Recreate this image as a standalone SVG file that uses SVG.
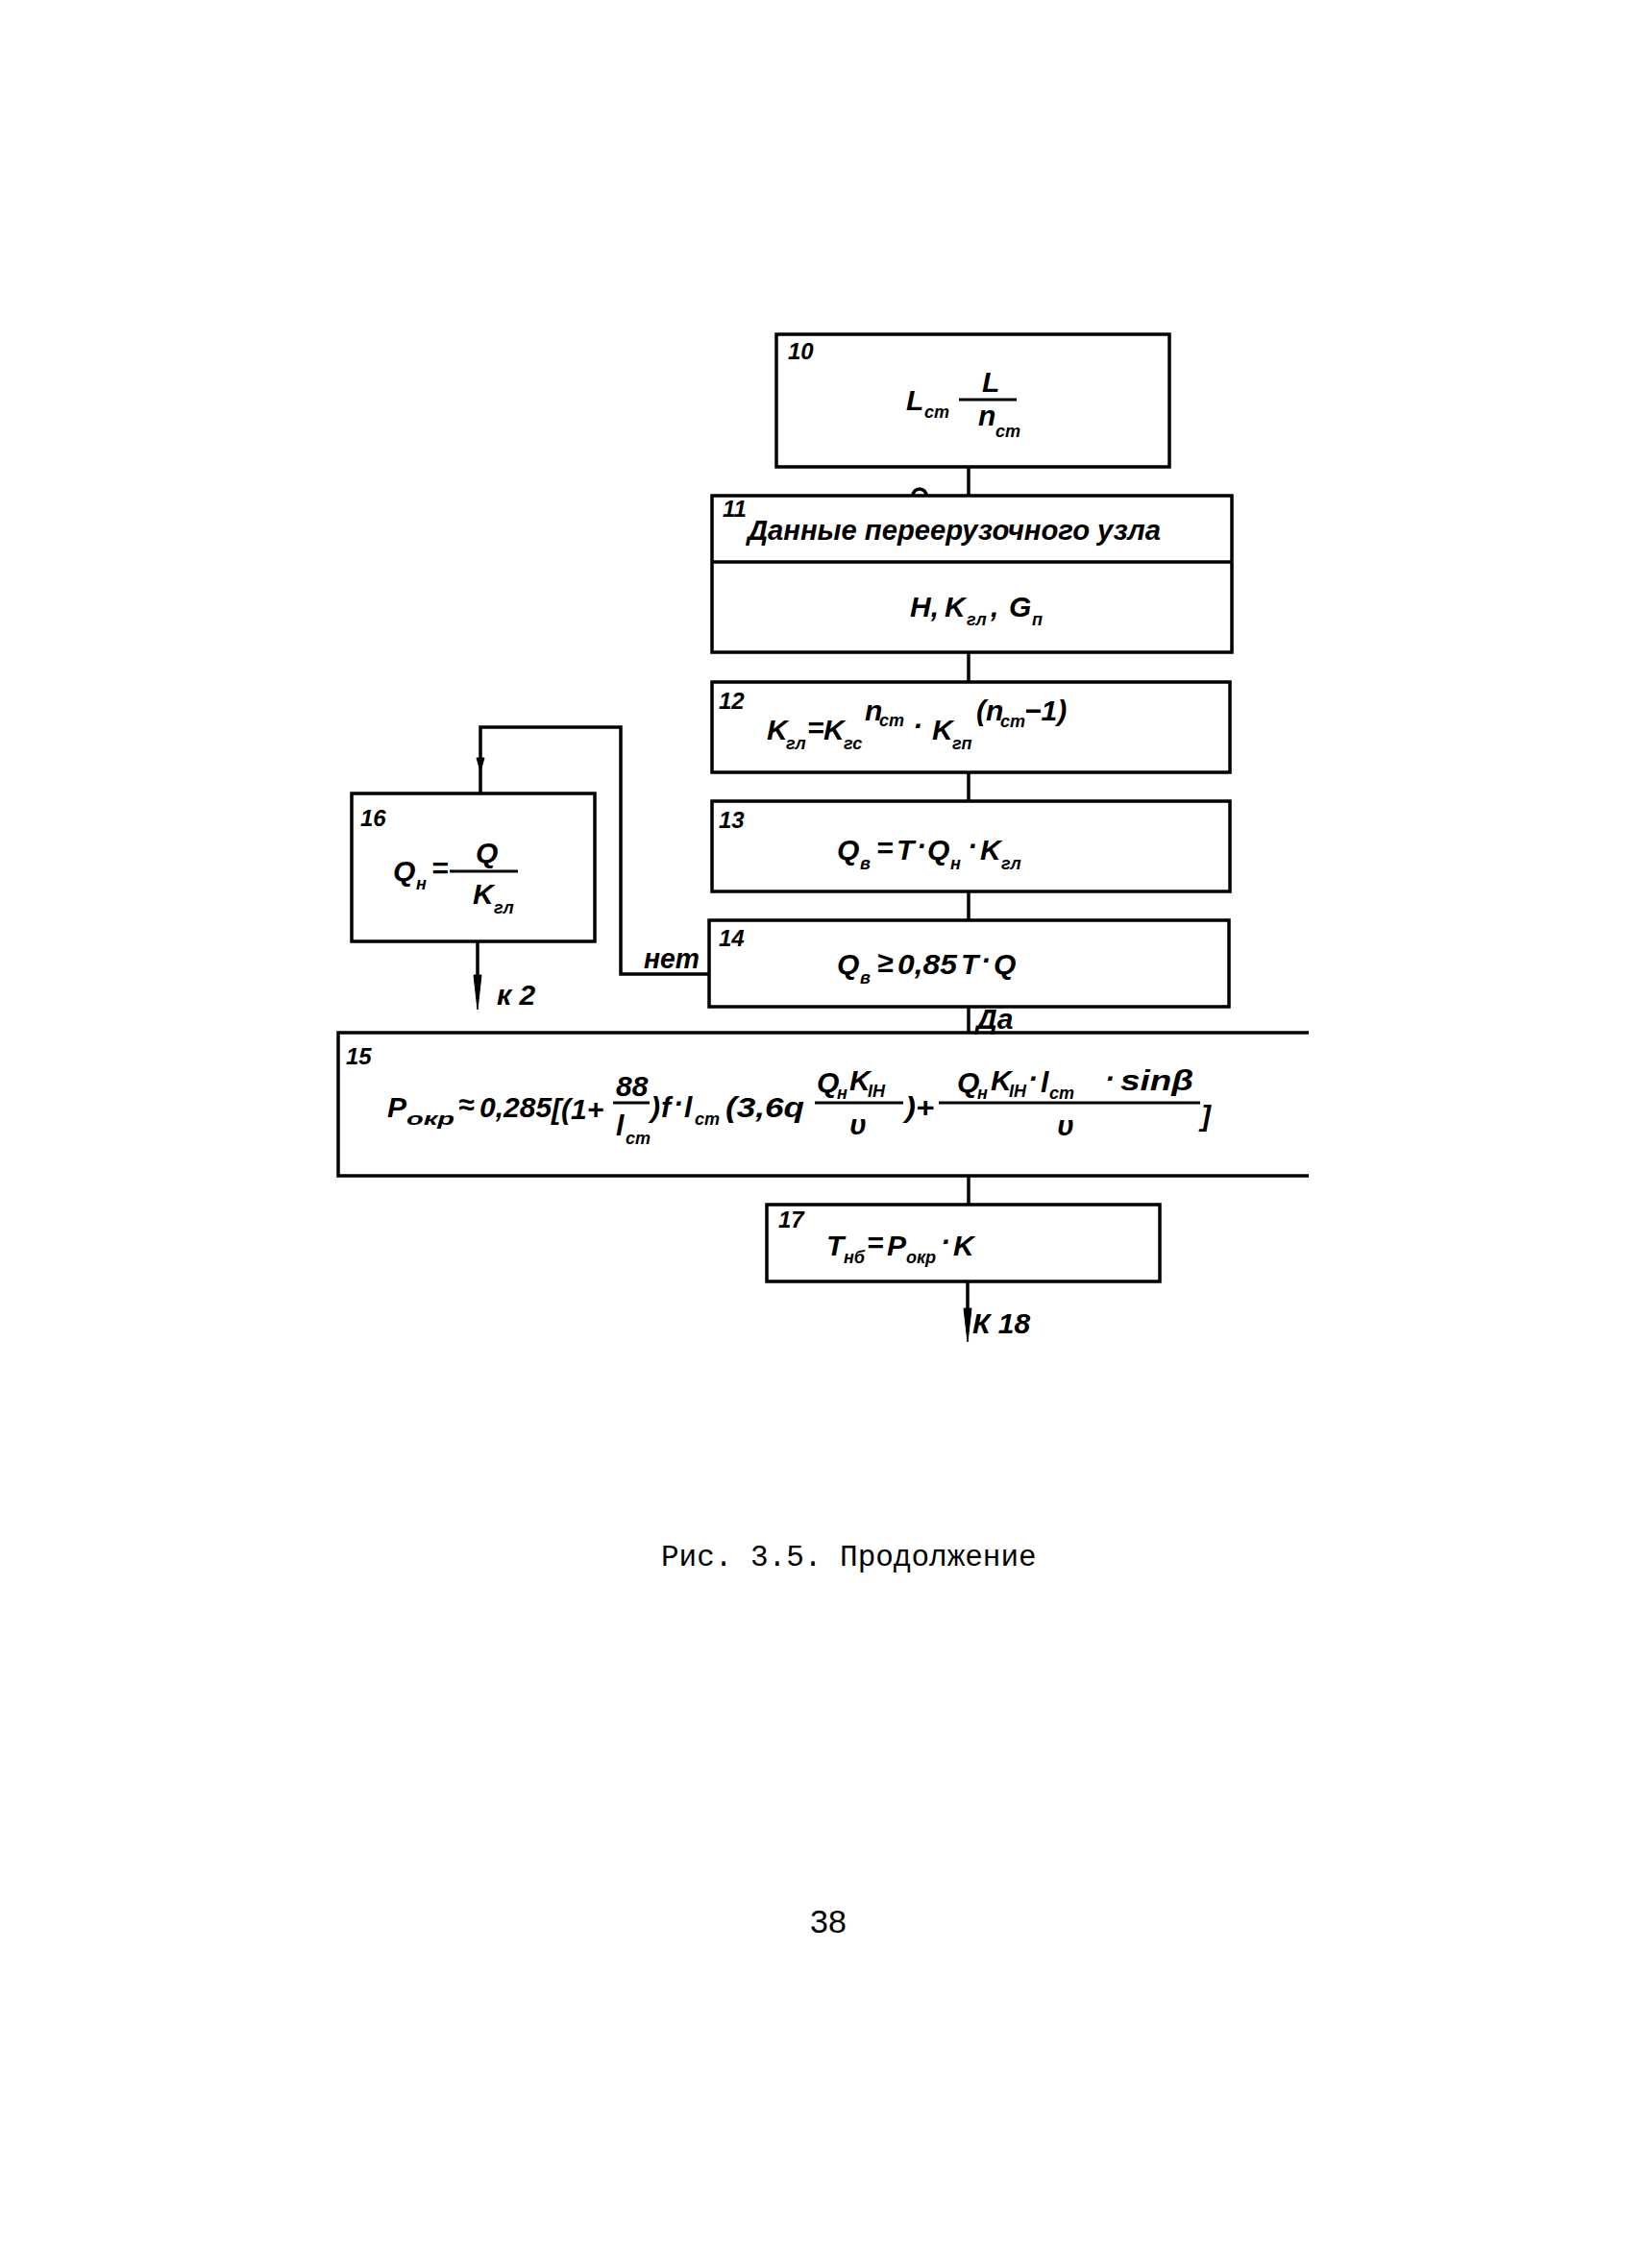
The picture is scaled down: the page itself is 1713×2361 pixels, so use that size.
<svg xmlns="http://www.w3.org/2000/svg" width="1713" height="2361" viewBox="0 0 1713 2361">
<style>
.box{fill:none;stroke:#000;stroke-width:3.5}
.ln{fill:none;stroke:#000;stroke-width:3.5}
.fl{fill:none;stroke:#000;stroke-width:3}
.ah{fill:#000;stroke:#000;stroke-width:1}
text{fill:#000}
.f{font-family:"Liberation Sans",sans-serif;font-style:italic;font-weight:bold;font-size:30px}
.n{font-family:"Liberation Sans",sans-serif;font-style:italic;font-weight:bold;font-size:24px}
.s{font-family:"Liberation Sans",sans-serif;font-style:italic;font-weight:bold;font-size:18px}
.cap{font-family:"Liberation Mono",monospace;font-size:31px}
.pg{font-family:"Liberation Sans",sans-serif;font-size:34px}
</style>
<rect width="1713" height="2361" fill="#fff"/>

<g id="connectors">
<line class="ln" x1="1008" y1="486" x2="1008" y2="516"/>
<path class="ln" d="M950,516 A7,7 0 0 1 964,516" stroke-width="2"/>
<line class="ln" x1="1008" y1="679" x2="1008" y2="710"/>
<line class="ln" x1="1008" y1="804" x2="1008" y2="834"/>
<line class="ln" x1="1008" y1="928" x2="1008" y2="958"/>
<line class="ln" x1="1008" y1="1048" x2="1008" y2="1075"/>
<line class="ln" x1="1008" y1="1224" x2="1008" y2="1254"/>
<line class="ln" x1="1007" y1="1334" x2="1007" y2="1370"/>
<polygon class="ah" points="1003,1362 1011,1362 1007,1397"/>
<path class="ln" d="M738,1014 H646 V757 H500 V826"/>
<polygon class="ah" points="496,789 504,789 500,803"/>
<line class="ln" x1="497" y1="980" x2="497" y2="1020"/>
<polygon class="ah" points="493,1015 501,1015 497,1051"/>
<text class="f" x="670" y="1008" textLength="58" lengthAdjust="spacingAndGlyphs">нет</text>
<text class="f" x="1016" y="1071" font-size="28">Да</text>
<text class="f" x="517" y="1046" font-size="32">к 2</text>
<text class="f" x="1012" y="1388" font-size="30">К 18</text>
</g>

<g id="node10">
<rect class="box" x="808" y="348" width="409" height="138"/>
<text class="n" x="820" y="374">10</text>
<text class="f" x="943" y="427" font-size="32">L</text>
<text class="s" x="962" y="435" font-size="20">ст</text>
<line class="fl" x1="998" y1="416" x2="1058" y2="416"/>
<text class="f" x="1022" y="408" font-size="32">L</text>
<text class="f" x="1018" y="443" font-size="28">n</text>
<text class="s" x="1036" y="455" font-size="20">ст</text>
</g>

<g id="node11">
<rect class="box" x="741" y="516" width="541" height="163"/>
<line class="ln" x1="741" y1="585" x2="1282" y2="585"/>
<text class="n" x="752" y="538">11</text>
<text class="f" x="778" y="562" textLength="430" lengthAdjust="spacingAndGlyphs">Данные переерузочного узла</text>
<text class="f" x="947" y="642" font-size="32">H,</text>
<text class="f" x="983" y="642" font-size="32">K</text>
<text class="s" x="1006" y="651" font-size="20">гл</text>
<text class="f" x="1031" y="642" font-size="32">,</text>
<text class="f" x="1050" y="642" font-size="32">G</text>
<text class="s" x="1074" y="651" font-size="20">п</text>
</g>

<g id="node12">
<rect class="box" x="741" y="710" width="539" height="94"/>
<text class="n" x="748" y="738">12</text>
<text class="f" x="798" y="770">K</text>
<text class="s" x="818" y="780">гл</text>
<text class="f" x="840" y="768" font-size="26">=</text>
<text class="f" x="857" y="770">K</text>
<text class="s" x="878" y="780">гс</text>
<text class="f" x="900" y="750" font-size="24">n</text>
<text class="s" x="915" y="756" font-size="16">ст</text>
<text class="f" x="950" y="766">·</text>
<text class="f" x="970" y="770">K</text>
<text class="s" x="991" y="780">гп</text>
<text class="f" x="1016" y="750" font-size="24">(n</text>
<text class="s" x="1041" y="757" font-size="15">ст</text>
<text class="f" x="1066" y="750" font-size="24">−1)</text>
</g>

<g id="node13">
<rect class="box" x="741" y="834" width="539" height="94"/>
<text class="n" x="748" y="862">13</text>
<text class="f" x="871" y="895">Q</text>
<text class="s" x="895" y="905">в</text>
<text class="f" x="912" y="893" font-size="26">=</text>
<text class="f" x="933" y="895">T</text>
<text class="f" x="954" y="891">·</text>
<text class="f" x="965" y="895">Q</text>
<text class="s" x="989" y="905">н</text>
<text class="f" x="1007" y="891">·</text>
<text class="f" x="1020" y="895">K</text>
<text class="s" x="1042" y="905">гл</text>
</g>

<g id="node14">
<rect class="box" x="738" y="958" width="541" height="90"/>
<text class="n" x="748" y="985">14</text>
<text class="f" x="871" y="1014">Q</text>
<text class="s" x="895" y="1024">в</text>
<text class="f" x="913" y="1012" font-size="26">≥</text>
<text class="f" x="934" y="1014" textLength="62" lengthAdjust="spacingAndGlyphs">0,85</text>
<text class="f" x="1000" y="1014">T</text>
<text class="f" x="1021" y="1010">·</text>
<text class="f" x="1034" y="1014">Q</text>
</g>

<g id="node15">
<path class="box" d="M1362,1075 H352 V1224 H1362"/>
<text class="n" x="360" y="1108">15</text>
<text class="f" x="403" y="1163">P</text>
<text class="s" x="423" y="1171" textLength="50" lengthAdjust="spacingAndGlyphs">окр</text>
<text class="f" x="477" y="1160" font-size="26">≈</text>
<text class="f" x="499" y="1163" font-size="25">0,285</text>
<text class="f" x="574" y="1165" font-size="32">[(1+</text>
<line class="fl" x1="638" y1="1148" x2="676" y2="1148"/>
<text class="f" x="641" y="1141" font-size="28">88</text>
<text class="f" x="641" y="1182" font-size="28">l</text>
<text class="s" x="651" y="1191">ст</text>
<text class="f" x="677" y="1163" font-size="32">)</text>
<text class="f" x="688" y="1163">f</text>
<text class="f" x="701" y="1159">·</text>
<text class="f" x="712" y="1163">l</text>
<text class="s" x="723" y="1171">ст</text>
<text class="f" x="755" y="1163" textLength="82" lengthAdjust="spacingAndGlyphs">(3,6q</text>
<line class="fl" x1="848" y1="1148" x2="940" y2="1148"/>
<text class="f" x="850" y="1137" font-size="26">Q</text>
<text class="s" x="871" y="1144" font-size="15">н</text>
<text class="f" x="884" y="1135" font-size="26">K</text>
<text class="s" x="903" y="1142" font-size="14">IH</text>
<text class="f" x="884" y="1181" font-size="28">υ</text>
<text class="f" x="942" y="1163" textLength="30" lengthAdjust="spacingAndGlyphs">)+</text>
<line class="fl" x1="977" y1="1148" x2="1249" y2="1148"/>
<text class="f" x="996" y="1137" font-size="26">Q</text>
<text class="s" x="1017" y="1144" font-size="15">н</text>
<text class="f" x="1031" y="1135" font-size="26">K</text>
<text class="s" x="1050" y="1142" font-size="14">IH</text>
<text class="f" x="1070" y="1133" font-size="26">·</text>
<text class="f" x="1083" y="1137" font-size="26">l</text>
<text class="s" x="1092" y="1144" font-size="15">ст</text>
<text class="f" x="1150" y="1133" font-size="26">·</text>
<text class="f" x="1166" y="1135" font-size="26" textLength="76" lengthAdjust="spacingAndGlyphs">sinβ</text>
<text class="f" x="1100" y="1182" font-size="28">υ</text>
<text class="f" x="1250" y="1172" font-size="38">]</text>
</g>

<g id="node16">
<rect class="box" x="366" y="826" width="253" height="154"/>
<text class="n" x="375" y="860">16</text>
<text class="f" x="409" y="917">Q</text>
<text class="s" x="433" y="926">н</text>
<text class="f" x="449" y="914" font-size="26">=</text>
<line class="fl" x1="468" y1="907" x2="539" y2="907"/>
<text class="f" x="495" y="898">Q</text>
<text class="f" x="492" y="941">K</text>
<text class="s" x="514" y="951">гл</text>
</g>

<g id="node17">
<rect class="box" x="798" y="1254" width="409" height="80"/>
<text class="n" x="810" y="1278">17</text>
<text class="f" x="860" y="1307">T</text>
<text class="s" x="878" y="1315">нб</text>
<text class="f" x="902" y="1304" font-size="26">=</text>
<text class="f" x="923" y="1307">P</text>
<text class="s" x="943" y="1315">окр</text>
<text class="f" x="979" y="1303">·</text>
<text class="f" x="992" y="1307">K</text>
</g>

<text class="cap" x="688" y="1630" font-size="32">Рис. 3.5. Продолжение</text>
<text class="pg" x="843" y="2012">38</text>
</svg>
